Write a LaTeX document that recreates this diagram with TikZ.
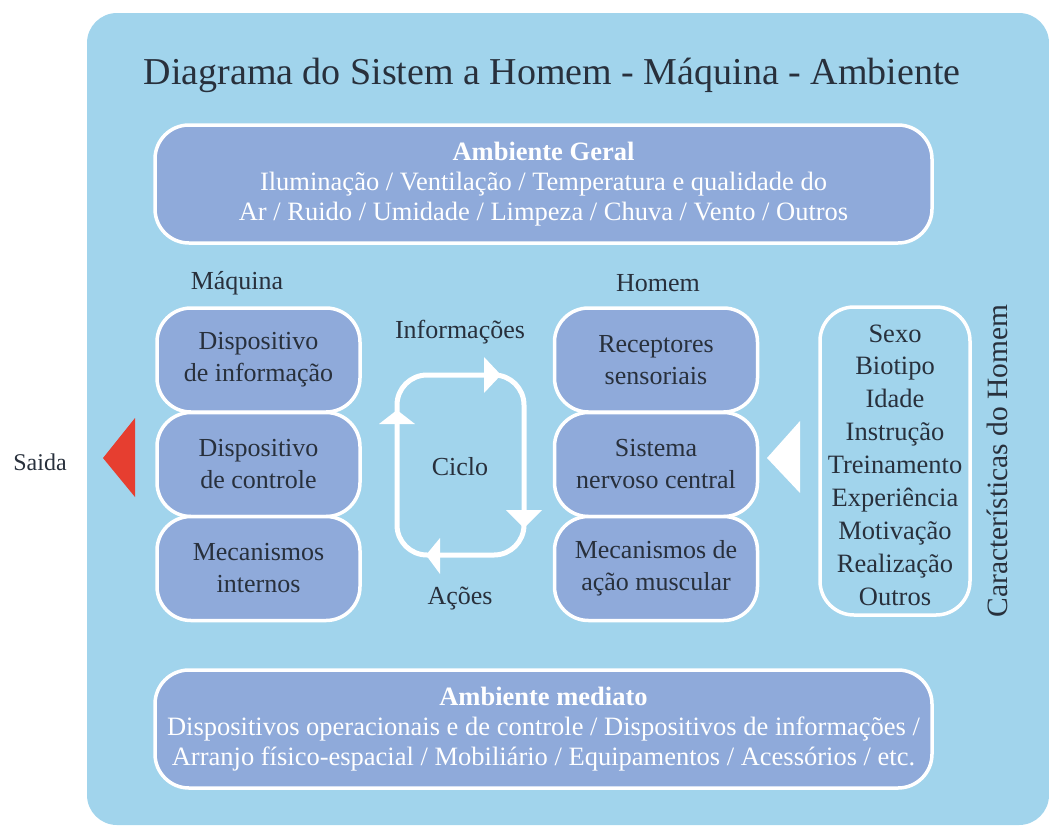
\documentclass[tikz,border=0pt]{standalone}
\usepackage{fontspec}
\setmainfont{Liberation Serif}
\definecolor{bgblue}{RGB}{161,212,236}
\definecolor{boxblue}{RGB}{143,170,218}
\definecolor{darktxt}{RGB}{40,48,60}
\definecolor{saidared}{RGB}{230,62,48}
\begin{document}
\begin{tikzpicture}[x=1pt,y=-1pt,
  cell/.style={draw=white, line width=3.5pt, fill=boxblue, rounded corners=34pt,
    minimum width=203pt, minimum height=104pt, align=center, text=darktxt,
    font=\fontsize{26}{32}\selectfont, inner sep=0pt},
  wide/.style={draw=white, line width=3.5pt, fill=boxblue, rounded corners=34pt,
    minimum width=777pt, minimum height=118pt, align=center, text=white,
    font=\fontsize{26.5}{30}\selectfont, inner sep=0pt},
  lbl/.style={text=darktxt, font=\fontsize{26}{30}\selectfont, inner sep=0pt},
  loopline/.style={draw=white, line width=5pt, rounded corners=30pt},
  tip/.style={fill=white, draw=none}]
\useasboundingbox (0,0) rectangle (1049,825);
\fill[bgblue, rounded corners=30pt] (87,13) rectangle (1049,825);

% title
\node[text=darktxt, font=\fontsize{38}{42}\selectfont, inner sep=0pt] (title) at (552,75)
  {Diagrama do Sistem a Homem - Máquina - Ambiente};

% Ambiente Geral
\node[wide] (geral) at (543.5,184) {\textbf{Ambiente Geral}\\Iluminação / Ventilação / Temperatura e qualidade do\\Ar / Ruido / Umidade / Limpeza / Chuva / Vento / Outros};

% Ambiente mediato
\node[wide] (mediato) at (543.5,729) {\textbf{Ambiente mediato}\\Dispositivos operacionais e de controle / Dispositivos de informações /\\Arranjo físico-espacial / Mobiliário / Equipamentos / Acessórios / etc.};

% Maquina column
\node[lbl] (maq) at (237,283) {Máquina};
\node[cell] (m1) at (258.5,360) {Dispositivo\\de informação};
\node[cell] (m2) at (258.5,464.5) {Dispositivo\\de controle};
\node[cell] (m3) at (258.5,568.5) {Mecanismos\\internos};

% Homem column
\node[lbl] (hom) at (658,283) {Homem};
\node[cell] (h1) at (656,360) {Receptores\\sensoriais};
\node[cell] (h2) at (656,464.5) {Sistema\\nervoso central};
\node[cell] (h3) at (656,568.5) {Mecanismos de\\ação muscular};

% cycle
\node[lbl] (info) at (460,332) {Informações};
\node[lbl] (ciclo) at (460,467) {Ciclo};
\node[lbl] (acoes) at (460,598) {Ações};
\draw[loopline] (397,375) rectangle (524,555);
\fill[tip] (501,375) -- (484,357) -- (484,393) -- cycle;
\fill[tip] (524,528) -- (506,510) -- (542,510) -- cycle;
\fill[tip] (426,555) -- (440,538) -- (440,574) -- cycle;
\fill[tip] (397,410) -- (379,424) -- (415,424) -- cycle;

% Saida
\node[text=darktxt, font=\fontsize{24}{28}\selectfont, inner sep=0pt] (saida) at (40,462) {Saida};
\fill[saidared] (103,458) -- (135,418) -- (135,497) -- cycle;

% Caracteristicas
\fill[white] (767,458) -- (800,421) -- (800,493) -- cycle;
\node[draw=white, line width=3.5pt, fill=bgblue, rounded corners=34pt,
  minimum width=150pt, minimum height=308pt, inner sep=0pt] (car) at (895,461) {};
\node[text=darktxt, align=center, font=\fontsize{26.5}{32.9}\selectfont, inner sep=0pt] (carlist) at (895,465)
  {Sexo\\Biotipo\\Idade\\Instrução\\Treinamento\\Experiência\\Motivação\\Realização\\Outros};
\node[text=darktxt, rotate=90, font=\fontsize{29.5}{32}\selectfont, inner sep=0pt] (cartitle) at (997,461) {Características do Homem};
\end{tikzpicture}
\end{document}
